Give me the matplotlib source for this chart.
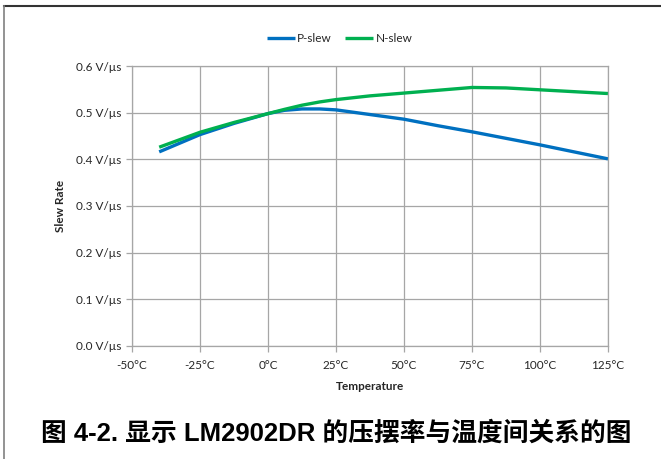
import matplotlib
matplotlib.use("Agg")
import matplotlib.pyplot as plt
from matplotlib.lines import Line2D

# temperature sweep (degC) and measured slew rates (V/us)
temps = [-40, -25, -12.5, 0, 6, 12.5, 19, 25, 37.5, 50, 62.5, 75, 87.5, 100, 112.5, 125]
p_slew = [0.416, 0.453, 0.477, 0.498, 0.505, 0.508, 0.508, 0.506, 0.496, 0.486, 0.472, 0.459, 0.445, 0.431, 0.416, 0.401]
n_slew = [0.426, 0.458, 0.479, 0.498, 0.507, 0.516, 0.523, 0.528, 0.536, 0.542, 0.548, 0.554, 0.553, 0.549, 0.545, 0.541]

x_ticks = [-50, -25, 0, 25, 50, 75, 100, 125]
y_ticks = [0.0, 0.1, 0.2, 0.3, 0.4, 0.5, 0.6]

blue = '#0070C0'
green = '#00B050'
grid_col = '#A6A6A6'
txt = '#262626'
lab_font = 'Lato'

fig = plt.figure(figsize=(6.61, 4.59), dpi=100)
ax = fig.add_axes([0.1997, 0.2462, 0.7201, 0.61])

ax.plot(temps, p_slew, color=blue, lw=2.4, solid_capstyle='butt', label='P-slew')
ax.plot(temps, n_slew, color=green, lw=2.4, solid_capstyle='butt', label='N-slew')

ax.set_xlim(-50, 125)
ax.set_ylim(0, 0.6)
ax.set_xticks(x_ticks)
ax.set_yticks(y_ticks)
ax.set_xticklabels([f'{t}°C' for t in x_ticks], fontsize=8.5, family=lab_font, color=txt)
ax.set_yticklabels([f'{v:.1f} V/µs' for v in y_ticks], fontsize=8.5, family=lab_font, color=txt)
ax.grid(True, color=grid_col, lw=0.9)
ax.set_axisbelow(True)
for s in ax.spines.values():
    s.set_color(grid_col)
    s.set_linewidth(0.9)
ax.tick_params(axis='both', length=4, width=0.9, color=grid_col, pad=4)
ax.tick_params(axis='x', pad=6)

ax.set_xlabel('Temperature', fontsize=8.5, fontweight='bold', family=lab_font, color=txt, labelpad=7)
ax.set_ylabel('Slew Rate', fontsize=8.5, fontweight='bold', family=lab_font, color=txt, labelpad=7)

ax.legend(loc='lower center', bbox_to_anchor=(0.436, 1.06), ncol=2, frameon=False,
          prop={'family': lab_font, 'size': 8.5}, handlelength=2.4, handletextpad=0.2,
          columnspacing=1.1, borderaxespad=0)
for t in ax.get_legend().get_texts():
    t.set_color(txt)

# frame lines of the chart box
fig.add_artist(Line2D([4 / 661, 1], [1 - 6 / 459, 1 - 6 / 459], color='#333333', lw=1.5))
fig.add_artist(Line2D([4 / 661, 4 / 661], [0, 1 - 6 / 459], color='#808080', lw=1.2))

fig.text(0.509, 1 - 433 / 459, '图 4-2. 显示 LM2902DR 的压摆率与温度间关系的图',
         ha='center', va='center', fontsize=18.5, fontweight='bold', color='black',
         family=['Liberation Sans', 'Noto Sans CJK SC'])

fig.savefig('out.png', dpi=100)
